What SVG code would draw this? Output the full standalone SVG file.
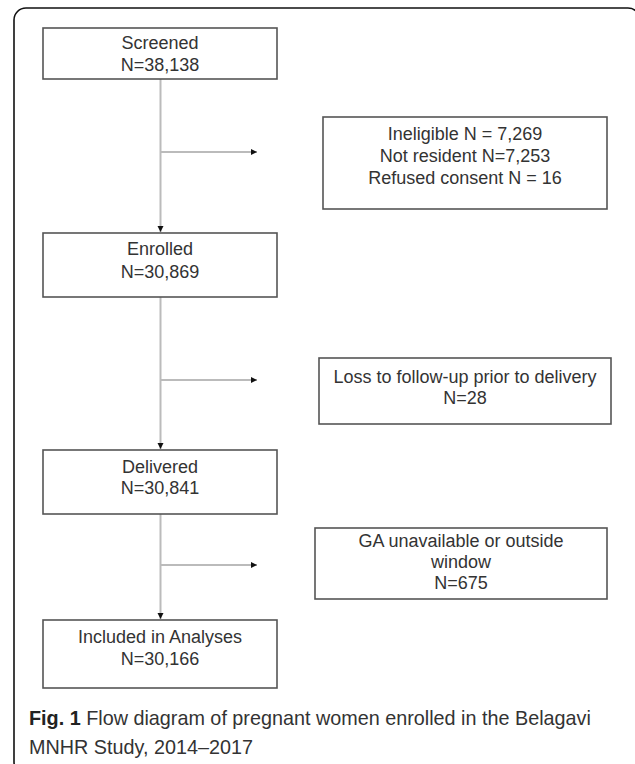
<svg xmlns="http://www.w3.org/2000/svg" width="635" height="764" viewBox="0 0 635 764">
<style>
.frame{fill:none;stroke:#111;stroke-width:1.6}
.box{fill:#fff;stroke:#555;stroke-width:1.6}
.t{font-family:"Liberation Sans",Arial,sans-serif;font-size:18px;fill:#333;text-anchor:middle}
.c{stroke:#bbb;stroke-width:2;fill:none}
.cap{font-family:"Liberation Sans",Arial,sans-serif;font-size:19.8px;fill:#333}
</style>
<defs>
<marker id="ah" markerWidth="8" markerHeight="8" refX="6" refY="3" orient="auto" markerUnits="userSpaceOnUse">
<path d="M0,0 L6,3 L0,6 Z" fill="#111"/>
</marker>
</defs>
<rect class="frame" x="14" y="8" width="626" height="766" rx="12"/>
<g id="connectors">
<line class="c" x1="160.5" y1="79" x2="160.5" y2="232" marker-end="url(#ah)"/>
<line class="c" x1="160.5" y1="152" x2="257" y2="152" marker-end="url(#ah)"/>
<line class="c" x1="160.5" y1="297" x2="160.5" y2="449" marker-end="url(#ah)"/>
<line class="c" x1="160.5" y1="380" x2="257" y2="380" marker-end="url(#ah)"/>
<line class="c" x1="160.5" y1="514" x2="160.5" y2="619" marker-end="url(#ah)"/>
<line class="c" x1="160.5" y1="565" x2="257" y2="565" marker-end="url(#ah)"/>
</g>
<g id="screened">
<rect class="box" x="43" y="28" width="234" height="51"/>
<text class="t" x="160" y="49">Screened</text>
<text class="t" x="160" y="71">N=38,138</text>
</g>
<g id="ineligible">
<rect class="box" x="323" y="117" width="284" height="92"/>
<text class="t" x="465" y="140">Ineligible N = 7,269</text>
<text class="t" x="465" y="162">Not resident N=7,253</text>
<text class="t" x="465" y="184">Refused consent N = 16</text>
</g>
<g id="enrolled">
<rect class="box" x="43" y="233" width="234" height="64"/>
<text class="t" x="160" y="255">Enrolled</text>
<text class="t" x="160" y="278">N=30,869</text>
</g>
<g id="loss">
<rect class="box" x="319" y="358" width="292" height="66"/>
<text class="t" x="465" y="383">Loss to follow-up prior to delivery</text>
<text class="t" x="465" y="404">N=28</text>
</g>
<g id="delivered">
<rect class="box" x="43" y="450" width="234" height="64"/>
<text class="t" x="160" y="473">Delivered</text>
<text class="t" x="160" y="494">N=30,841</text>
</g>
<g id="ga">
<rect class="box" x="315" y="528" width="292" height="71"/>
<text class="t" x="461" y="547">GA unavailable or outside</text>
<text class="t" x="461" y="568">window</text>
<text class="t" x="461" y="589">N=675</text>
</g>
<g id="included">
<rect class="box" x="43" y="620" width="234" height="68"/>
<text class="t" x="160" y="643">Included in Analyses</text>
<text class="t" x="160" y="665">N=30,166</text>
</g>
<g id="caption">
<text class="cap" x="29" y="725"><tspan font-weight="bold" fill="#222">Fig. 1</tspan> Flow diagram of pregnant women enrolled in the Belagavi</text>
<text class="cap" x="29" y="754">MNHR Study, 2014–2017</text>
</g>
</svg>
